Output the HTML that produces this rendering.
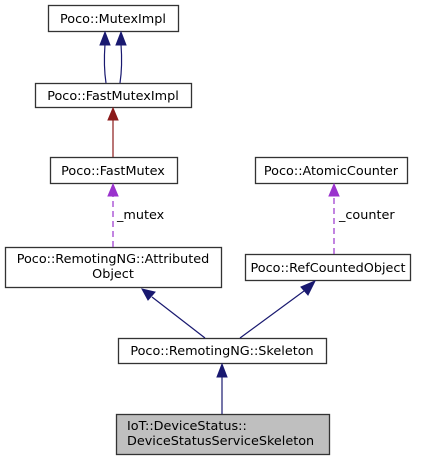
<!DOCTYPE html>
<html><head><meta charset="utf-8"><style>
html,body{margin:0;padding:0;background:#fff;width:429px;height:460px;overflow:hidden}
text{font-family:"DejaVu Sans","Liberation Sans",sans-serif;font-size:12.8px;fill:#000}
</style></head><body>
<svg width="429" height="460" viewBox="0 0 429 460" xmlns="http://www.w3.org/2000/svg">
<g fill="#fff" stroke="#333" stroke-width="1.3">
<rect x="48.5" y="5.5" width="130" height="26"/>
<rect x="35.5" y="83.5" width="156" height="24"/>
<rect x="50.5" y="157.5" width="127" height="26"/>
<rect x="255.5" y="157.5" width="152" height="26"/>
<rect x="5.5" y="247.5" width="216" height="40"/>
<rect x="245.5" y="254.5" width="165" height="26"/>
<rect x="118.5" y="338.5" width="208" height="25"/>
<rect x="116.5" y="414.5" width="213" height="40" fill="#bfbfbf"/>
</g>
<text x="113" y="23" text-anchor="middle">Poco::MutexImpl</text>
<text x="113" y="100" text-anchor="middle">Poco::FastMutexImpl</text>
<text x="113" y="175" text-anchor="middle">Poco::FastMutex</text>
<text x="331" y="175" text-anchor="middle">Poco::AtomicCounter</text>
<text x="113" y="263" text-anchor="middle">Poco::RemotingNG::Attributed</text>
<text x="113" y="278" text-anchor="middle">Object</text>
<text x="328" y="272" text-anchor="middle">Poco::RefCountedObject</text>
<text x="222" y="355" text-anchor="middle">Poco::RemotingNG::Skeleton</text>
<text x="127" y="430">IoT::DeviceStatus::</text>
<text x="127" y="445">DeviceStatusServiceSkeleton</text>
<text x="117" y="219">_mutex</text>
<text x="339" y="219">_counter</text>
<g fill="none" stroke-width="1.2">
<path d="M106,83 C104,70 104,58 105,44" stroke="#191970"/>
<path d="M120,83 C122,70 122,58 121,44" stroke="#191970"/>
<path d="M113,157 V120" stroke="#8b1a1a"/>
<path d="M113,247 V196" stroke="#9a32cd" stroke-dasharray="6,4"/>
<path d="M334,254 V196" stroke="#9a32cd" stroke-dasharray="6,4"/>
<path d="M205,338 L152,297" stroke="#191970"/>
<path d="M240,338 L304,291" stroke="#191970"/>
<path d="M222,414 V377" stroke="#191970"/>
</g>
<g stroke-width="1">
<polygon points="100,45 110,45 105,32" fill="#191970" stroke="#191970"/>
<polygon points="116,45 126,45 121,32" fill="#191970" stroke="#191970"/>
<polygon points="108,120 118,120 113,108" fill="#8b1a1a" stroke="#8b1a1a"/>
<polygon points="108,196 118,196 113,184" fill="#9a32cd" stroke="#9a32cd"/>
<polygon points="329,196 339,196 334,184" fill="#9a32cd" stroke="#9a32cd"/>
<polygon points="155,292 148,300 142,289" fill="#191970" stroke="#191970"/>
<polygon points="301,287 308,295 315,281" fill="#191970" stroke="#191970"/>
<polygon points="217,377 227,377 222,364" fill="#191970" stroke="#191970"/>
</g>
</svg>
</body></html>
